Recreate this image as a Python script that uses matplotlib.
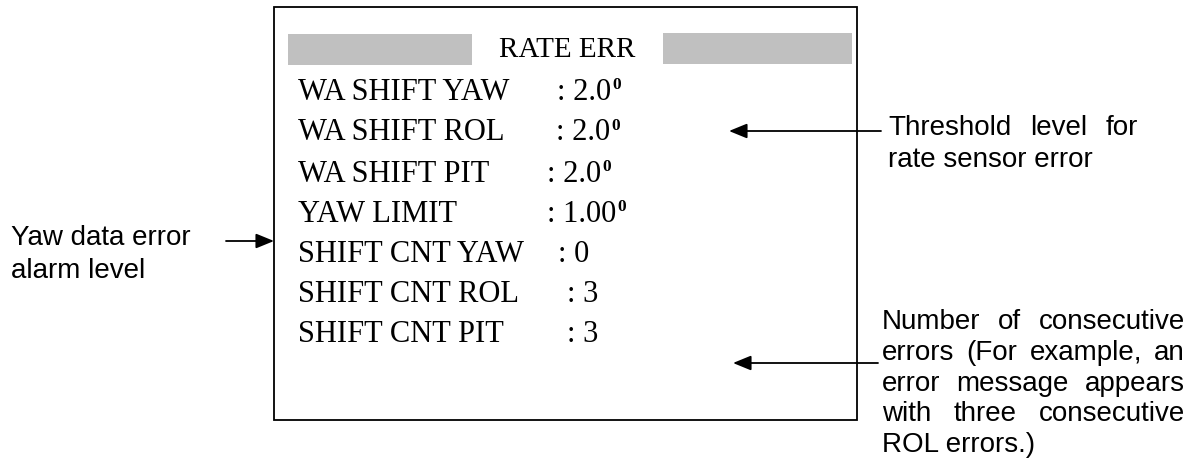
import matplotlib
matplotlib.use("Agg")
import matplotlib.pyplot as plt
from matplotlib.patches import Rectangle

# === Screen content ===
title = "RATE ERR"
param_names = ["WA SHIFT YAW", "WA SHIFT ROL", "WA SHIFT PIT", "YAW LIMIT",
               "SHIFT CNT YAW", "SHIFT CNT ROL", "SHIFT CNT PIT"]
param_values = ["2.0", "2.0", "2.0", "1.00", "0", "3", "3"]
param_degree = [True, True, True, True, False, False, False]

# callouts
note_threshold = ["Threshold level for", "rate sensor error"]
note_count = ["Number of consecutive", "errors (For example, an",
              "error message appears", "with three consecutive", "ROL errors.)"]
note_yaw = ["Yaw data error", "alarm level"]

W, H = 1197, 462
SERIF = ["Liberation Serif", "DejaVu Serif"]
SANS = ["Liberation Sans", "DejaVu Sans"]

fig = plt.figure(figsize=(W / 100, H / 100), dpi=100)
ax = fig.add_axes([0, 0, 1, 1])
ax.set_xlim(0, W)
ax.set_ylim(H, 0)
ax.axis("off")

# screen frame + grey title bars
ax.add_patch(Rectangle((274, 7), 583, 413, fill=False, lw=1.3, ec="black"))
ax.add_patch(Rectangle((288, 34), 184, 31, color="#c0c0c0", lw=0))
ax.add_patch(Rectangle((663, 33), 189, 31, color="#c0c0c0", lw=0))
ax.text(567, 50, title, family=SERIF, fontsize=21, ha="center", va="center")

row_y = [92, 133, 174, 214, 254, 294, 334]
colon_x = [557, 556, 547, 547, 558, 567, 567]
renderer = fig.canvas.get_renderer()
for name, val, deg, y, cx in zip(param_names, param_values, param_degree, row_y, colon_x):
    ax.text(298, y, name, family=SERIF, fontsize=22, ha="left", va="center")
    t = ax.text(cx, y, ": " + val, family=SERIF, fontsize=22, ha="left", va="center")
    if deg:
        bb = t.get_window_extent(renderer)
        ax.text(bb.x1 + 1, y - 7, "0", family=SERIF, fontsize=12.5, fontweight="bold",
                ha="left", va="center")


def justified(lines, x0, x1, y0, dy, size=20):
    """Draw a block of justified sans text, last line left aligned."""
    for k, line in enumerate(lines):
        y = y0 + k * dy
        words = line.split()
        if k == len(lines) - 1 or len(words) == 1:
            ax.text(x0, y, line, family=SANS, fontsize=size, ha="left", va="center")
            continue
        arts = [ax.text(0, y, w, family=SANS, fontsize=size, ha="left", va="center")
                for w in words]
        widths = [a.get_window_extent(renderer).width for a in arts]
        gap = (x1 - x0 - sum(widths)) / (len(words) - 1)
        x = x0
        for a, w in zip(arts, widths):
            a.set_x(x)
            x += w + gap


def arrow(x_from, x_to, y):
    ax.annotate("", xy=(x_to, y), xytext=(x_from, y),
                arrowprops=dict(arrowstyle="-|>,head_length=1.1,head_width=0.45",
                                lw=1.3, color="black", shrinkA=0, shrinkB=0))


arrow(881, 729, 131)
justified(note_threshold, 888, 1138, 128, 32)

arrow(878, 733, 363)
justified(note_count, 882, 1185, 322, 30.8)

arrow(226, 274, 241)
for k, line in enumerate(note_yaw):
    ax.text(11, 238 + k * 33, line, family=SANS, fontsize=20, ha="left", va="center")

fig.savefig("out.png", dpi=100)
